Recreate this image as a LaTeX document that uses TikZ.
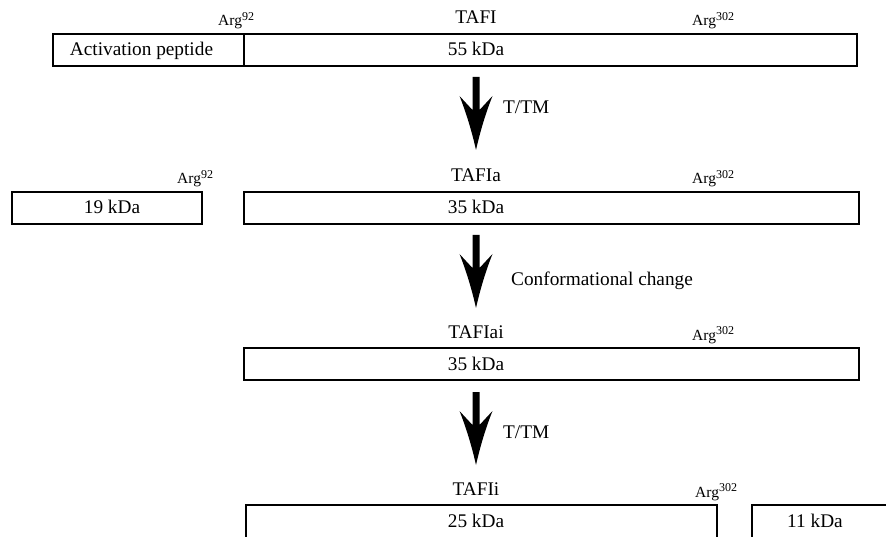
\documentclass[tikz,border=0pt]{standalone}
\usepackage{fontspec}
\setmainfont{Liberation Serif}
\newcommand{\argsup}[1]{Arg\raisebox{5.5pt}{\fontsize{12}{14}\selectfont #1}}
\begin{document}
\begin{tikzpicture}[x=1pt,y=-1pt,
  box/.style={draw,line width=1.8pt,inner sep=0pt,outer sep=0pt,anchor=north west,minimum height=32pt},
  txt/.style={font=\fontsize{19.3}{22}\selectfont,inner sep=0pt,anchor=base},
  lbl/.style={font=\fontsize{19.3}{22}\selectfont,inner sep=0pt,anchor=base west},
  arg/.style={font=\fontsize{15.5}{18}\selectfont,inner sep=0pt,anchor=base west},
  bigarrow/.pic={
    \fill (-3.5,0) -- (3.5,0) -- (3.5,33) -- (16.5,19)
      .. controls (10,35) and (4,55) .. (0,73)
      .. controls (-4,55) and (-10,35) .. (-16.5,19) -- (-3.5,33) -- cycle;
  }]
\clip (0,0) rectangle (886,537);
\useasboundingbox (0,0) rectangle (886,537);

% Row 1: TAFI
\node[box,minimum width=191pt] (ap) at (53,34) {};
\node[box,minimum width=613pt] (m1) at (244,34) {};
\node[txt] (tap) at (141.5,56) {Activation peptide};
\node[txt] (t55) at (476,56) {55 kDa};
\node[txt] (n1) at (476,24) {TAFI};
\node[arg] (r1a) at (218,26) {\argsup{92}};
\node[arg] (r1b) at (692,26) {\argsup{302}};

% Arrow 1
\coordinate (a1) at (476,77);
\pic at (a1) {bigarrow};
\node[lbl] (l1) at (503,114) {T/TM};

% Row 2: TAFIa
\node[box,minimum width=190pt] (b19) at (12,192) {};
\node[box,minimum width=615pt] (m2) at (244,192) {};
\node[txt] (t19) at (112,214) {19 kDa};
\node[txt] (t35a) at (476,214) {35 kDa};
\node[txt] (n2) at (476,182) {TAFIa};
\node[arg] (r2a) at (177,184) {\argsup{92}};
\node[arg] (r2b) at (692,184) {\argsup{302}};

% Arrow 2
\coordinate (a2) at (476,235);
\pic at (a2) {bigarrow};
\node[lbl] (l2) at (511,286) {Conformational change};

% Row 3: TAFIai
\node[box,minimum width=615pt] (m3) at (244,348) {};
\node[txt] (t35b) at (476,370) {35 kDa};
\node[txt] (n3) at (476,338) {TAFIai};
\node[arg] (r3b) at (692,340) {\argsup{302}};

% Arrow 3
\coordinate (a3) at (476,392);
\pic at (a3) {bigarrow};
\node[lbl] (l3) at (503,438) {T/TM};

% Row 4: TAFIi
\node[box,minimum width=471pt,minimum height=45pt] (m4) at (246,505) {};
\node[box,minimum width=160pt,minimum height=45pt] (b11) at (752,505) {};
\node[txt] (t25) at (476,527) {25 kDa};
\node[txt] (t11) at (815,527) {11 kDa};
\node[txt] (n4) at (476,495) {TAFIi};
\node[arg] (r4b) at (695,497) {\argsup{302}};
\end{tikzpicture}
\end{document}
